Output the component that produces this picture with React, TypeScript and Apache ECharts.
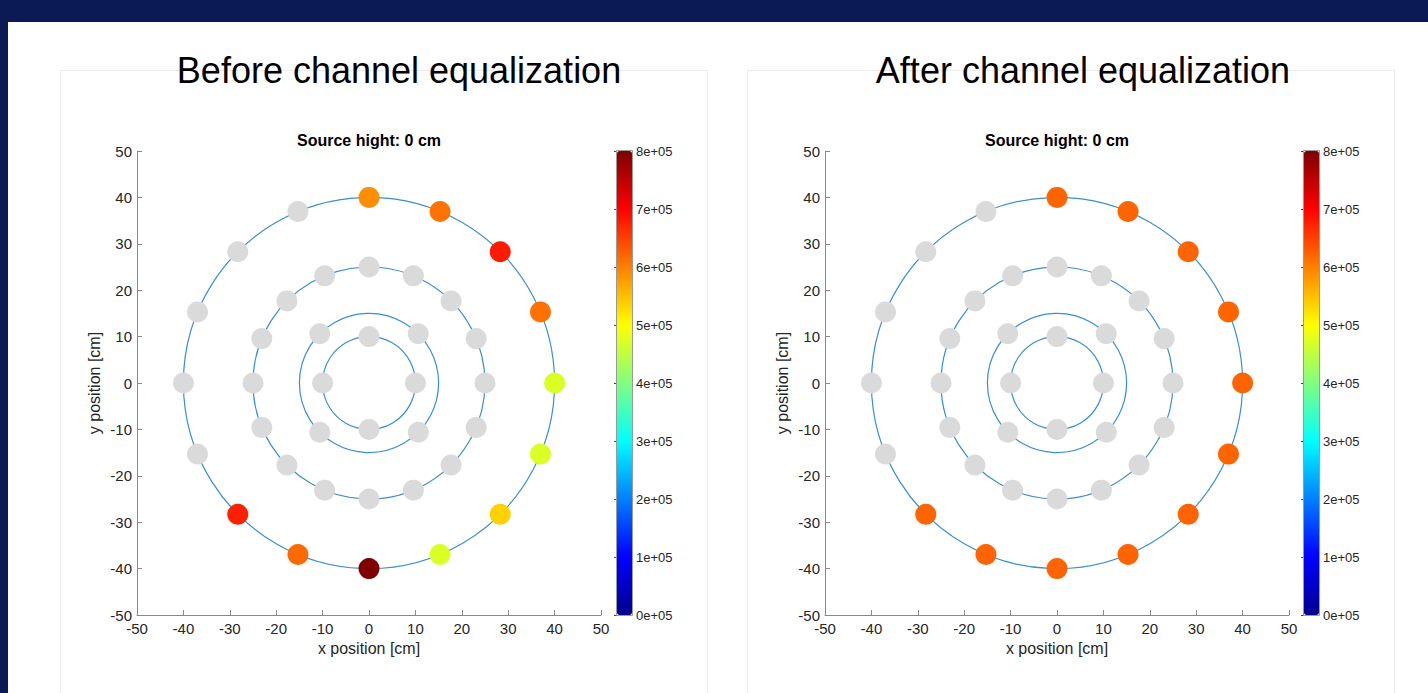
import React, { useEffect, useRef } from 'react';
import * as echarts from 'echarts';

// ---------- data ----------
const panelTitles = ['Before channel equalization', 'After channel equalization'];
const subTitle = 'Source hight: 0 cm';
const xAxisName = 'x position [cm]';
const yAxisName = 'y position [cm]';
const axisMin = -50;
const axisMax = 50;
const axisStep = 10;
const colorMin = 0;
const colorMax = 800000;
const colorStep = 100000;

// ring radii of the guide circles [cm]
const ringRadii = [10, 15, 25, 40];

// sensor positions [cm]: outer ring (16), middle ring (16), inner ring (8)
const sensorX = [
  0, 15.31, 28.28, 36.96, 40, 36.96, 28.28, 15.31, 0, -15.31, -28.28, -36.96, -40, -36.96, -28.28, -15.31,
  0, 9.57, 17.68, 23.1, 25, 23.1, 17.68, 9.57, 0, -9.57, -17.68, -23.1, -25, -23.1, -17.68, -9.57,
  0, 10.61, 10, 10.61, 0, -10.61, -10, -10.61,
];
const sensorY = [
  40, 36.96, 28.28, 15.31, 0, -15.31, -28.28, -36.96, -40, -36.96, -28.28, -15.31, 0, 15.31, 28.28, 36.96,
  25, 23.1, 17.68, 9.57, 0, -9.57, -17.68, -23.1, -25, -23.1, -17.68, -9.57, 0, 9.57, 17.68, 23.1,
  10, 10.61, 0, -10.61, -10, -10.61, 0, 10.61,
];

// channel amplitude (null = inactive channel, drawn grey)
const beforeValues: (number | null)[] = [
  590000, 610000, 680000, 612000, 472000, 472000, 536000, 472000, 800000, 617000, 675000, null, null, null, null, null,
  null, null, null, null, null, null, null, null, null, null, null, null, null, null, null, null,
  null, null, null, null, null, null, null, null,
];
const afterValues: (number | null)[] = [
  622000, 622000, 622000, 622000, 622000, 622000, 622000, 622000, 622000, 622000, 622000, null, null, null, null, null,
  null, null, null, null, null, null, null, null, null, null, null, null, null, null, null, null,
  null, null, null, null, null, null, null, null,
];

const jetColors = ['#00008f', '#0000ff', '#0080ff', '#00ffff', '#80ff80', '#ffff00', '#ff8000', '#ff0000', '#800000'];

// ---------- styles ----------
const FONT = 'Liberation Sans, Arial, Helvetica, sans-serif';
const AXIS_COLOR = '#8a8a8a';
const TEXT_COLOR = '#262626';
const RING_COLOR = '#3a8fd0';
const INACTIVE_COLOR = '#dadada';

const plotLefts = [137, 825];
const barLefts = [617, 1304];
const titleCenters = [399, 1083];
const PLOT_TOP = 151;
const PLOT_SIZE = 464;

export default function App() {
  const ref = useRef<HTMLDivElement>(null);

  useEffect(() => {
    if (!ref.current) return;
    const chart = echarts.init(ref.current, undefined, { renderer: 'svg' });

    const grids: any[] = [];
    const xAxes: any[] = [];
    const yAxes: any[] = [];
    const series: any[] = [];
    const visualMaps: any[] = [];
    const graphics: any[] = [];

    [beforeValues, afterValues].forEach((vals, p) => {
      grids.push({ left: plotLefts[p], top: PLOT_TOP, width: PLOT_SIZE, height: PLOT_SIZE });
      grids.push({ left: barLefts[p], top: PLOT_TOP, width: 15, height: PLOT_SIZE });
      const gPlot = p * 2;
      const gBar = p * 2 + 1;

      xAxes.push({
        gridIndex: gPlot,
        type: 'value',
        min: axisMin,
        max: axisMax,
        interval: axisStep,
        name: xAxisName,
        nameLocation: 'middle',
        nameGap: 25,
        nameTextStyle: { fontSize: 16, color: TEXT_COLOR, fontFamily: FONT },
        axisLine: { show: true, onZero: false, lineStyle: { color: AXIS_COLOR, width: 1 } },
        axisTick: { show: true, inside: true, length: 5, lineStyle: { color: AXIS_COLOR } },
        axisLabel: { fontSize: 15, color: TEXT_COLOR, margin: 6, fontFamily: FONT },
        splitLine: { show: false },
      });
      yAxes.push({
        gridIndex: gPlot,
        type: 'value',
        min: axisMin,
        max: axisMax,
        interval: axisStep,
        name: yAxisName,
        nameLocation: 'middle',
        nameGap: 35,
        nameTextStyle: { fontSize: 16, color: TEXT_COLOR, fontFamily: FONT },
        axisLine: { show: true, onZero: false, lineStyle: { color: AXIS_COLOR, width: 1 } },
        axisTick: { show: true, inside: true, length: 5, lineStyle: { color: AXIS_COLOR } },
        axisLabel: { fontSize: 15, color: TEXT_COLOR, margin: 5, fontFamily: FONT },
        splitLine: { show: false },
      });
      xAxes.push({ gridIndex: gBar, type: 'value', min: 0, max: 1, show: false });
      yAxes.push({
        gridIndex: gBar,
        type: 'value',
        position: 'right',
        min: colorMin,
        max: colorMax,
        interval: colorStep,
        axisLine: { show: false },
        axisTick: { show: true, inside: true, length: 3, lineStyle: { color: '#444' } },
        axisLabel: {
          fontSize: 13,
          color: TEXT_COLOR,
          margin: 4,
          fontFamily: FONT,
          formatter: (v: number) => `${Math.round(v / 1e5)}e+05`,
        },
        splitLine: { show: false },
      });

      const xi = p * 2;
      const yi = p * 2;
      series.push({
        type: 'custom',
        xAxisIndex: xi,
        yAxisIndex: yi,
        z: 1,
        silent: true,
        data: ringRadii.map((r) => [r, 0]),
        renderItem: (params: any, api: any) => {
          const r = api.value(0);
          const c = api.coord([0, 0]);
          const s = api.size([r, r]);
          return {
            type: 'circle',
            shape: { cx: c[0], cy: c[1], r: s[0] },
            style: { fill: 'none', stroke: RING_COLOR, lineWidth: 1.2 },
          };
        },
      });
      series.push({
        type: 'scatter',
        xAxisIndex: xi,
        yAxisIndex: yi,
        z: 3,
        symbolSize: 21,
        itemStyle: { color: INACTIVE_COLOR, opacity: 1 },
        data: sensorX.map((x, i) => (vals[i] == null ? [x, sensorY[i]] : null)).filter((d) => d),
      });
      const activeIdx = series.length;
      series.push({
        type: 'scatter',
        xAxisIndex: xi,
        yAxisIndex: yi,
        z: 4,
        symbolSize: 21,
        itemStyle: { opacity: 1 },
        data: sensorX.map((x, i) => (vals[i] != null ? [x, sensorY[i], vals[i]] : null)).filter((d) => d),
      });
      visualMaps.push({
        type: 'continuous',
        min: colorMin,
        max: colorMax,
        dimension: 2,
        seriesIndex: activeIdx,
        inRange: { color: jetColors },
        left: barLefts[p],
        top: PLOT_TOP,
        itemWidth: 15,
        itemHeight: PLOT_SIZE,
        calculable: false,
        hoverLink: false,
        padding: 0,
        show: true,
      });

      graphics.push({
        type: 'rect',
        z: 100,
        silent: true,
        shape: { x: barLefts[p] - 0.5, y: PLOT_TOP - 0.5, width: 16, height: PLOT_SIZE + 1 },
        style: { fill: 'none', stroke: '#9a9a9a', lineWidth: 1 },
      });
      graphics.push({
        type: 'text',
        x: titleCenters[p],
        y: 70,
        z: 100,
        style: {
          text: panelTitles[p],
          fontSize: 36,
          fontFamily: FONT,
          fill: '#000',
          align: 'center',
          verticalAlign: 'middle',
        },
      });
      graphics.push({
        type: 'text',
        x: plotLefts[p] + PLOT_SIZE / 2,
        y: 140,
        z: 100,
        style: {
          text: subTitle,
          fontSize: 16,
          fontWeight: 'bold',
          fontFamily: FONT,
          fill: '#000',
          align: 'center',
          verticalAlign: 'middle',
        },
      });
    });

    chart.setOption({
      animation: false,
      backgroundColor: 'transparent',
      grid: grids,
      xAxis: xAxes,
      yAxis: yAxes,
      series,
      visualMap: visualMaps,
      graphic: graphics,
    });

    return () => chart.dispose();
  }, []);

  return (
    <div style={{ position: 'fixed', left: 0, top: 0, width: 1428, height: 693, background: '#0b1a55', overflow: 'hidden' }}>
      <div style={{ position: 'absolute', left: 8, top: 22, width: 1420, height: 671, background: '#ffffff' }} />
      <div style={{ position: 'absolute', left: 60, top: 70, width: 646, height: 640, border: '1px solid #ececec' }} />
      <div style={{ position: 'absolute', left: 747, top: 70, width: 646, height: 640, border: '1px solid #ececec' }} />
      <div ref={ref} style={{ position: 'absolute', left: 0, top: 0, width: 1428, height: 693 }} />
    </div>
  );
}
